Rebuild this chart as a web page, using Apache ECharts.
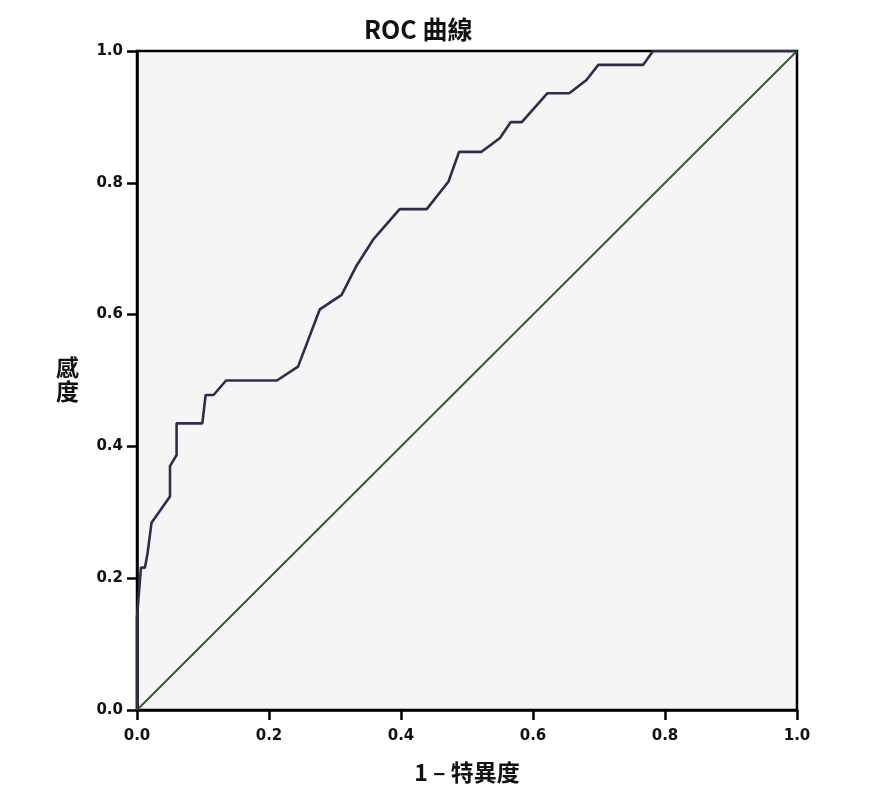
<!DOCTYPE html>
<html>
<head>
<meta charset="utf-8">
<script src="https://cdn.jsdelivr.net/npm/echarts@6/dist/echarts.min.js"></script>
<style>
html,body{margin:0;padding:0;background:#fff;}
#chart{width:872px;height:796px;}
</style>
</head>
<body>
<div id="chart"></div>
<script>
const titleText = 'ROC 曲線';
const xAxisName = '1 – 特異度';
const yAxisName = '感度';
const tickValues = [0.0, 0.2, 0.4, 0.6, 0.8, 1.0];

const rocFpr = [0, 0, 0.006, 0.012, 0.016, 0.022, 0.050, 0.050, 0.060, 0.060, 0.099, 0.104, 0.116, 0.135, 0.212, 0.244, 0.277, 0.310, 0.333, 0.358, 0.398, 0.439, 0.472, 0.488, 0.522, 0.550, 0.566, 0.583, 0.622, 0.655, 0.681, 0.699, 0.767, 0.782, 1.0];
const rocTpr = [0, 0.141, 0.216, 0.216, 0.238, 0.284, 0.324, 0.370, 0.387, 0.435, 0.435, 0.478, 0.478, 0.500, 0.500, 0.521, 0.608, 0.630, 0.675, 0.714, 0.760, 0.760, 0.802, 0.847, 0.847, 0.868, 0.892, 0.892, 0.936, 0.936, 0.956, 0.979, 0.979, 1.0, 1.0];
const refX = [0, 1];
const refY = [0, 1];

const chart = echarts.init(document.getElementById('chart'));
const cjkFont = '"Noto Sans CJK TC", "Noto Sans", sans-serif';
const numFont = '"DejaVu Sans", sans-serif';
const axisCommon = {
  type: 'value', min: 0, max: 1, interval: 0.2,
  axisLine: {show: true, onZero: false, lineStyle: {color: '#000', width: 2.5}},
  axisTick: {show: true, inside: false, length: 10, lineStyle: {color: '#000', width: 2.5}},
  splitLine: {show: false},
  axisLabel: {
    color: '#111', fontSize: 15, fontWeight: 'bold', fontFamily: numFont,
    formatter: v => v.toFixed(1)
  }
};
chart.setOption({
  animation: false,
  backgroundColor: '#fff',
  title: {
    text: titleText, left: 359, top: 12,
    textStyle: {fontSize: 25, fontWeight: 'bold', color: '#111', fontFamily: cjkFont}
  },
  grid: {
    left: 137, right: 75, top: 51, bottom: 86,
    show: true, backgroundColor: '#f5f5f5', borderColor: '#000', borderWidth: 2.5
  },
  xAxis: Object.assign({}, axisCommon, {
    name: xAxisName, nameLocation: 'middle', nameGap: 51,
    nameTextStyle: {fontSize: 23, fontWeight: 'bold', color: '#111', fontFamily: cjkFont},
    axisLabel: Object.assign({}, axisCommon.axisLabel, {margin: 19})
  }),
  yAxis: Object.assign({}, axisCommon, {
    axisLabel: Object.assign({}, axisCommon.axisLabel, {margin: 14})
  }),
  graphic: [{
    type: 'text', left: 56, top: 355,
    style: {text: yAxisName.split('').join('\n'), fontSize: 23, fontWeight: 'bold', fill: '#111', fontFamily: cjkFont, lineHeight: 24}
  }],
  series: [{
    type: 'line', data: rocFpr.map((x, i) => [x, rocTpr[i]]),
    showSymbol: false, lineStyle: {color: '#2b2f4c', width: 2.6}, z: 3
  }, {
    type: 'line', data: refX.map((x, i) => [x, refY[i]]),
    showSymbol: false, lineStyle: {color: '#2d582e', width: 1.8}, z: 2
  }]
});
</script>
</body>
</html>
